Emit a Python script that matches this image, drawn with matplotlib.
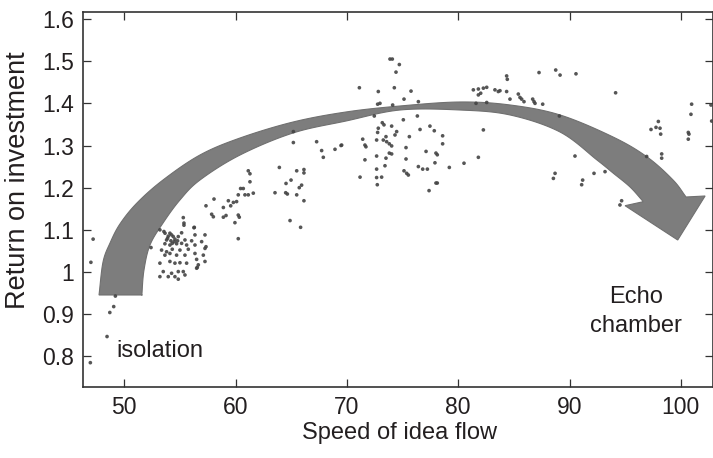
import numpy as np
import matplotlib
matplotlib.use("Agg")
import matplotlib.pyplot as plt
from matplotlib.patches import Polygon

plt.rcParams['font.family'] = ['Liberation Sans', 'DejaVu Sans']

# ---- observations: speed of idea flow vs. return on investment ----
isolated_speed = [47.2, 47.0, 49.2, 49.05, 48.7, 48.45, 46.95]
isolated_roi = [1.078, 1.023, 0.943, 0.918, 0.904, 0.847, 0.785]

slow_speed = [55.36, 56.29, 53.56, 54.10, 55.15, 57.25, 56.35, 53.95, 54.40, 54.85,
              53.80, 54.19, 54.55, 55.45, 56.05, 56.95, 53.65, 54.10, 54.70, 55.15,
              55.60, 56.35, 53.35, 53.80, 54.31, 55.00, 55.75, 57.25, 53.65, 54.10,
              54.70, 55.45, 56.35, 57.10, 53.20, 54.10, 54.55, 55.00, 55.60, 56.50,
              56.65, 57.25, 53.50, 54.25, 54.85, 55.30, 53.20, 53.95, 54.55, 54.85,
              55.45, 56.50, 54.25, 54.49, 53.89, 54.79, 54.31, 53.20, 53.66, 55.30,
              55.36, 56.26, 57.34, 56.56, 52.40]
slow_roi = [1.111, 1.106, 1.096, 1.092, 1.093, 1.088, 1.088, 1.085, 1.084, 1.084,
            1.076, 1.074, 1.078, 1.076, 1.074, 1.072, 1.067, 1.064, 1.067, 1.068,
            1.064, 1.064, 1.052, 1.048, 1.054, 1.052, 1.054, 1.056, 1.040, 1.044,
            1.040, 1.040, 1.044, 1.040, 1.021, 1.025, 1.021, 1.022, 1.021, 1.030,
            1.017, 1.025, 1.001, 0.997, 1.001, 1.001, 0.989, 0.989, 0.989, 0.983,
            0.993, 1.009, 1.088, 1.072, 1.080, 1.074, 1.068, 1.100, 1.092, 1.129,
            1.116, 1.105, 1.060, 1.011, 1.058]

rising_speed = [65.19, 67.28, 67.73, 68.93, 67.88, 63.93, 65.49, 66.14, 66.14, 61.14,
                61.29, 61.29, 64.98, 64.53, 65.93, 65.72, 60.45, 60.69, 63.54, 64.50,
                64.65, 65.49, 60.24, 60.84, 61.14, 61.59, 58.06, 59.35, 59.80, 60.09,
                59.56, 57.34, 58.90, 66.14, 57.85, 58.00, 58.90, 59.14, 60.24, 60.33,
                59.94, 64.89, 65.84, 60.24, 69.47, 65.19]
rising_roi = [1.307, 1.309, 1.288, 1.291, 1.272, 1.248, 1.240, 1.243, 1.235, 1.240,
              1.233, 1.214, 1.218, 1.210, 1.206, 1.200, 1.198, 1.198, 1.188, 1.188,
              1.185, 1.183, 1.183, 1.183, 1.183, 1.187, 1.173, 1.169, 1.165, 1.167,
              1.157, 1.157, 1.153, 1.169, 1.137, 1.131, 1.130, 1.134, 1.135, 1.130,
              1.117, 1.122, 1.106, 1.079, 1.300, 1.333]

peak_speed = [73.87, 74.08, 74.71, 74.41, 71.12, 72.82, 74.26, 75.76, 75.13, 76.42,
              72.76, 72.97, 74.11, 72.46, 76.33, 75.07, 73.18, 73.33, 74.02, 77.46,
              72.82, 76.57, 77.85, 74.47, 74.32, 72.76, 78.60, 73.51, 75.61, 71.42,
              72.67, 73.27, 73.57, 73.81, 74.02, 71.62, 71.71, 69.53, 75.31, 78.60,
              73.81, 74.02, 72.67, 77.11, 78.00, 78.12, 71.62, 75.31, 73.51, 77.91,
              79.20, 80.52, 72.67, 73.42, 76.42, 76.81, 77.23, 75.13, 75.37, 75.52,
              71.18, 72.67, 73.12, 72.73, 78.00, 78.12, 77.38]
peak_roi = [1.505, 1.505, 1.492, 1.474, 1.437, 1.428, 1.437, 1.429, 1.410, 1.404,
            1.398, 1.400, 1.396, 1.370, 1.370, 1.361, 1.354, 1.349, 1.346, 1.346,
            1.341, 1.338, 1.335, 1.333, 1.325, 1.331, 1.323, 1.321, 1.321, 1.315,
            1.313, 1.313, 1.309, 1.304, 1.299, 1.301, 1.297, 1.301, 1.295, 1.304,
            1.282, 1.280, 1.275, 1.286, 1.282, 1.278, 1.266, 1.268, 1.270, 1.259,
            1.248, 1.258, 1.244, 1.252, 1.250, 1.244, 1.244, 1.240, 1.234, 1.230,
            1.225, 1.224, 1.225, 1.207, 1.211, 1.211, 1.193]

fast_speed = [84.35, 84.41, 87.26, 88.76, 89.15, 90.58, 81.36, 81.81, 82.26, 82.56,
              81.81, 82.02, 83.30, 83.60, 83.75, 84.35, 84.65, 85.40, 85.55, 85.70,
              85.91, 86.69, 86.81, 86.90, 87.59, 81.60, 82.56, 89.09, 82.26, 81.81,
              90.49, 88.70, 88.55, 91.18, 91.09, 92.20, 93.19]
fast_roi = [1.465, 1.457, 1.473, 1.479, 1.467, 1.470, 1.432, 1.434, 1.436, 1.438,
            1.420, 1.424, 1.432, 1.428, 1.430, 1.428, 1.410, 1.422, 1.414, 1.410,
            1.404, 1.410, 1.404, 1.400, 1.398, 1.400, 1.402, 1.370, 1.337, 1.272,
            1.275, 1.234, 1.222, 1.218, 1.207, 1.234, 1.238]

echo_speed = [94.14, 100.97, 100.91, 102.71, 102.77, 97.98, 97.32, 97.77, 98.13, 98.19,
              100.67, 100.73, 100.67, 98.28, 98.28, 96.93, 94.68, 94.53]
echo_roi = [1.425, 1.398, 1.374, 1.396, 1.358, 1.357, 1.338, 1.343, 1.341, 1.327,
            1.331, 1.327, 1.315, 1.280, 1.270, 1.274, 1.169, 1.159]

speed = isolated_speed + slow_speed + rising_speed + peak_speed + fast_speed + echo_speed
roi = isolated_roi + slow_roi + rising_roi + peak_roi + fast_roi + echo_roi

x_ticks = [50, 60, 70, 80, 90, 100]
y_ticks = [0.8, 0.9, 1.0, 1.1, 1.2, 1.3, 1.4, 1.5, 1.6]
y_tick_labels = ['0.8', '0.9', '1', '1.1', '1.2', '1.3', '1.4', '1.5', '1.6']

# ---- trend arrow outline (upper edge, head, lower edge) ----
arrow_outer = [(47.73, 0.9455), (48.09, 1.0238), (48.72, 1.0688), (49.61, 1.1139),
               (51.14, 1.1637), (53.48, 1.2182), (56.80, 1.2775), (60.40, 1.3178),
               (65.16, 1.3557), (69.92, 1.3795), (74.77, 1.3937), (80.16, 1.4032),
               (84.66, 1.3961), (89.15, 1.3724), (93.91, 1.3202), (96.97, 1.2728),
               (99.30, 1.2182), (100.47, 1.1779)]
arrow_head = [(102.18, 1.1803), (99.72, 1.0759), (94.99, 1.1573)]
arrow_inner = [(96.63, 1.1668), (95.44, 1.2016), (93.91, 1.2348), (92.47, 1.2656),
               (89.15, 1.3320), (84.66, 1.3724), (80.16, 1.3842), (74.77, 1.3842),
               (69.92, 1.3581), (65.16, 1.3297), (60.40, 1.2775), (56.80, 1.2182),
               (55.00, 1.1708), (53.48, 1.1162), (52.31, 1.0641), (51.77, 1.0048),
               (51.59, 0.9502), (51.59, 0.9455)]


def smooth(points, n=14):
    """Catmull-Rom spline through the given vertices."""
    pts = np.asarray(points, float)
    ext = np.vstack([2 * pts[0] - pts[1], pts, 2 * pts[-1] - pts[-2]])
    t = np.linspace(0, 1, n, endpoint=False)[:, None]
    segs = []
    for i in range(1, len(ext) - 2):
        p0, p1, p2, p3 = ext[i - 1], ext[i], ext[i + 1], ext[i + 2]
        segs.append(0.5 * (2 * p1 + (-p0 + p2) * t
                           + (2 * p0 - 5 * p1 + 4 * p2 - p3) * t ** 2
                           + (-p0 + 3 * p1 - 3 * p2 + p3) * t ** 3))
    segs.append(pts[-1:])
    return np.vstack(segs)


fig = plt.figure(figsize=(7.13, 4.58), dpi=100)
ax = fig.add_axes([0.1164, 0.155, 0.8836, 0.8188])

outline = np.vstack([smooth(arrow_outer), np.asarray(arrow_head), smooth(arrow_inner)])
ax.add_patch(Polygon(outline, closed=True, facecolor='#7d7d7d',
                     edgecolor='#707070', linewidth=0.8, zorder=2))

ax.scatter(speed, roi, s=7, color='#444444', edgecolors='none', alpha=0.9, zorder=3)

ax.text(49.3, 0.798, 'isolation', fontsize=17, color='#231f20',
        ha='left', va='baseline', zorder=4)
ax.text(96.0, 0.9265, 'Echo', fontsize=17, color='#231f20',
        ha='center', va='baseline', zorder=4)
ax.text(96.0, 0.8585, 'chamber', fontsize=17, color='#231f20',
        ha='center', va='baseline', zorder=4)

ax.set_xlim(46.29, 102.89)
ax.set_ylim(0.7273, 1.6166)
ax.set_xticks(x_ticks)
ax.set_yticks(y_ticks)
ax.set_yticklabels(y_tick_labels)

for lab in ax.get_xticklabels() + ax.get_yticklabels():
    lab.set_fontsize(16.5)
    lab.set_color('#231f20')

ax.tick_params(axis='both', direction='in', length=6, width=0.9, color='#333333',
               top=True, right=True)
ax.tick_params(axis='x', pad=6.5)
ax.tick_params(axis='y', pad=6.5)
for sp in ax.spines.values():
    sp.set_linewidth(1.2)
    sp.set_color('#333333')

ax.set_xlabel('Speed of idea flow', fontsize=17, color='#231f20')
ax.set_ylabel('Return on investment', fontsize=19.5, color='#231f20')
ax.xaxis.set_label_coords(0.503, -0.093)
ax.yaxis.set_label_coords(-0.083, 0.552)

fig.savefig('out.png', dpi=100)
